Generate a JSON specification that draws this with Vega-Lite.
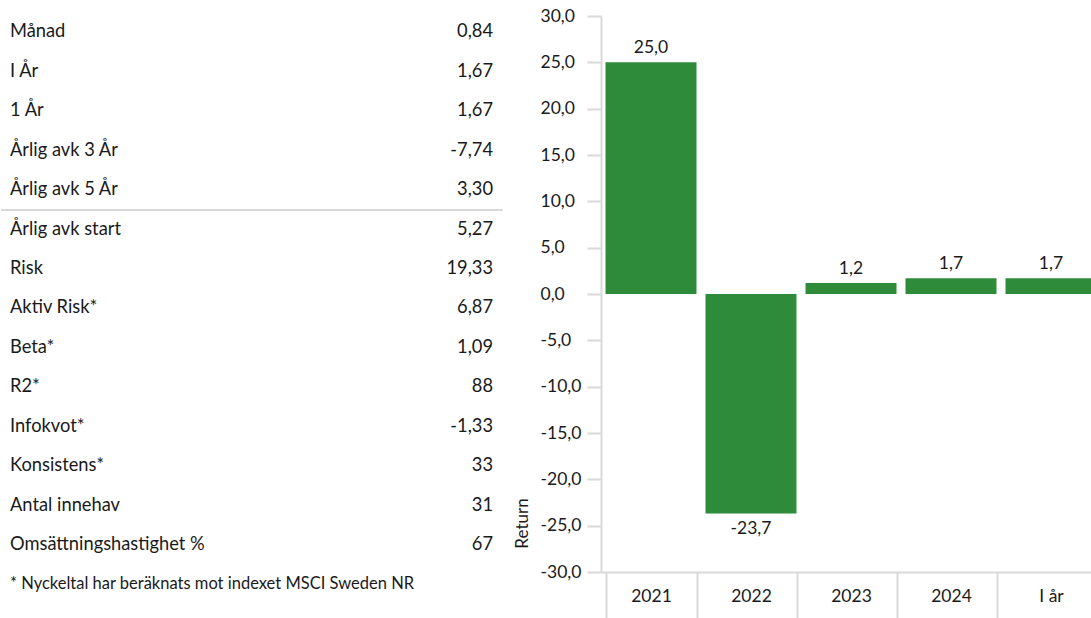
{
  "$schema": "https://vega.github.io/schema/vega-lite/v6.json",
  "background": "white",
  "padding": {"left": 0, "top": 7, "right": 0, "bottom": 0},
  "bounds": "flush",
  "spacing": 108,
  "config": {
    "view": {"stroke": null},
    "font": "Lato",
    "locale": {"number": {"decimal": ",", "thousands": "\u00a0", "grouping": [3], "currency": ["", " kr"], "minus": "-"}}
  },
  "datasets": {
    "stats": [
      {"row": 0, "label": "Månad", "value": "0,84"},
      {"row": 1, "label": "I År", "value": "1,67"},
      {"row": 2, "label": "1 År", "value": "1,67"},
      {"row": 3, "label": "Årlig avk 3 År", "value": "-7,74"},
      {"row": 4, "label": "Årlig avk 5 År", "value": "3,30"},
      {"row": 5, "label": "Årlig avk start", "value": "5,27"},
      {"row": 6, "label": "Risk", "value": "19,33"},
      {"row": 7, "label": "Aktiv Risk*", "value": "6,87"},
      {"row": 8, "label": "Beta*", "value": "1,09"},
      {"row": 9, "label": "R2*", "value": "88"},
      {"row": 10, "label": "Infokvot*", "value": "-1,33"},
      {"row": 11, "label": "Konsistens*", "value": "33"},
      {"row": 12, "label": "Antal innehav", "value": "31"},
      {"row": 13, "label": "Omsättningshastighet %", "value": "67"},
      {"row": 14, "label": "* Nyckeltal har beräknats mot indexet MSCI Sweden NR", "value": ""}
    ],
    "returns": [
      {"period": "2021", "return": 25.0},
      {"period": "2022", "return": -23.7},
      {"period": "2023", "return": 1.2},
      {"period": "2024", "return": 1.7},
      {"period": "I år", "return": 1.7}
    ]
  },
  "hconcat": [
    {
      "width": 492,
      "height": 556,
      "data": {"name": "stats"},
      "layer": [
        {
          "mark": {"type": "text", "align": "left", "baseline": "middle", "dx": 9, "color": "#1a1a1a", "font": "Lato"},
          "encoding": {
            "x": {"datum": 0, "type": "quantitative", "scale": {"domain": [0, 1], "nice": false, "zero": false}, "axis": null},
            "y": {"field": "row", "type": "quantitative", "scale": {"domain": [-0.418, 13.683], "reverse": true, "nice": false, "zero": false}, "axis": null},
            "text": {"field": "label"},
            "size": {"condition": {"test": "datum.row === 14", "value": 16.5}, "value": 18.3}
          }
        },
        {
          "mark": {"type": "text", "align": "right", "baseline": "middle", "fontSize": 18.3, "color": "#1a1a1a", "font": "Lato"},
          "encoding": {
            "x": {"datum": 1, "type": "quantitative"},
            "y": {"field": "row", "type": "quantitative"},
            "text": {"field": "value"}
          }
        },
        {
          "data": {"values": [{}]},
          "mark": {"type": "rule", "color": "#d9d9d9", "strokeWidth": 2},
          "encoding": {
            "x": {"datum": 0, "type": "quantitative"},
            "x2": {"datum": 1.02},
            "y": {"datum": 4.5, "type": "quantitative"}
          }
        }
      ]
    },
    {
      "width": 500,
      "height": 556,
      "data": {"name": "returns"},
      "encoding": {
        "x": {
          "field": "period", "type": "nominal", "sort": null,
          "scale": {"paddingInner": 0.09, "paddingOuter": 0.045},
          "axis": {
            "title": null, "labelAngle": 0, "tickBand": "extent", "tickSize": 46,
            "tickColor": "#d9d9d9", "tickWidth": 2, "domainColor": "#d9d9d9", "domainWidth": 2,
            "labelPadding": -22, "labelBaseline": "middle", "labelFontSize": 17.5, "labelColor": "#1a1a1a", "labelFont": "Lato"
          }
        },
        "y": {
          "field": "return", "type": "quantitative",
          "scale": {"domain": [-30, 30], "nice": false},
          "axis": {
            "title": "Return", "values": [-30, -25, -20, -15, -10, -5, 0, 5, 10, 15, 20, 25, 30],
            "format": ".1f", "grid": false, "labelAlign": "left", "labelBaseline": "middle", "labelPadding": 47,
            "labelFlush": false, "labelOverlap": false,
            "tickSize": 14, "tickColor": "#d9d9d9", "tickWidth": 2, "domainColor": "#d9d9d9", "domainWidth": 2,
            "labelFontSize": 17.5, "labelColor": "#1a1a1a", "labelFont": "Lato",
            "titleFont": "Lato", "titleFontSize": 17, "titleFontWeight": "normal", "titleColor": "#1a1a1a",
            "titleX": -79, "titleY": 507, "titleAngle": -90, "titleAlign": "center", "titleBaseline": "middle"
          }
        }
      },
      "layer": [
        {"mark": {"type": "bar", "color": "#2e8b3a"}},
        {
          "transform": [{"filter": "datum['return'] >= 0"}],
          "mark": {"type": "text", "baseline": "bottom", "dy": -5, "fontSize": 17.5, "color": "#1a1a1a", "font": "Lato"},
          "encoding": {"text": {"field": "return", "type": "quantitative", "format": ".1f"}}
        },
        {
          "transform": [{"filter": "datum['return'] < 0"}],
          "mark": {"type": "text", "baseline": "top", "dy": 6, "fontSize": 17.5, "color": "#1a1a1a", "font": "Lato"},
          "encoding": {"text": {"field": "return", "type": "quantitative", "format": ".1f"}}
        }
      ]
    }
  ]
}
